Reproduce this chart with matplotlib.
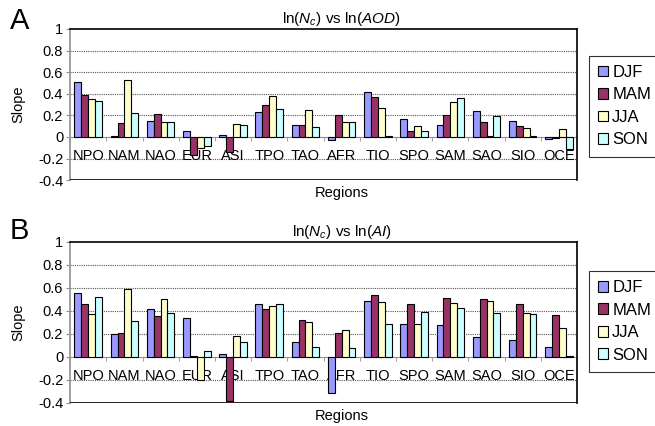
import matplotlib
matplotlib.use('Agg')
import matplotlib.pyplot as plt
import numpy as np

plt.rcParams['font.family'] = ['Liberation Sans', 'DejaVu Sans']
plt.rcParams['mathtext.fontset'] = 'custom'
plt.rcParams['mathtext.rm'] = 'Liberation Sans'
plt.rcParams['mathtext.it'] = 'Liberation Sans:italic'

regions = ['NPO', 'NAM', 'NAO', 'EUR', 'ASI', 'TPO', 'TAO', 'AFR',
           'TIO', 'SPO', 'SAM', 'SAO', 'SIO', 'OCE']
seasons = ['DJF', 'MAM', 'JJA', 'SON']
colors = ['#9999FF', '#993366', '#FFFFCC', '#CCFFFF']

# Panel A: ln(Nc) vs ln(AOD)
aod_djf = [0.51, 0.005, 0.15, 0.06, 0.02, 0.23, 0.11, -0.03, 0.42, 0.17, 0.11, 0.24, 0.15, -0.02]
aod_mam = [0.39, 0.13, 0.21, -0.17, -0.14, 0.30, 0.11, 0.20, 0.37, 0.06, 0.20, 0.14, 0.10, -0.01]
aod_jja = [0.35, 0.53, 0.14, -0.10, 0.12, 0.38, 0.25, 0.14, 0.27, 0.10, 0.32, 0.01, 0.08, 0.07]
aod_son = [0.33, 0.22, 0.14, -0.08, 0.11, 0.26, 0.09, 0.14, 0.01, 0.06, 0.36, 0.19, 0.01, -0.11]

# Panel B: ln(Nc) vs ln(AI)
ai_djf = [0.56, 0.20, 0.42, 0.34, 0.03, 0.46, 0.13, -0.31, 0.485, 0.285, 0.28, 0.17, 0.15, 0.09]
ai_mam = [0.46, 0.21, 0.36, 0.005, -0.38, 0.42, 0.32, 0.21, 0.535, 0.46, 0.515, 0.50, 0.46, 0.365]
ai_jja = [0.37, 0.59, 0.50, -0.20, 0.18, 0.44, 0.30, 0.235, 0.48, 0.285, 0.47, 0.49, 0.385, 0.25]
ai_son = [0.52, 0.31, 0.38, 0.05, 0.13, 0.46, 0.09, 0.075, 0.285, 0.39, 0.43, 0.385, 0.37, 0.005]


def draw_panel(ax, series, title, letter, letter_off):
    x = np.arange(len(regions))
    width = 0.19
    for k, (vals, c, name) in enumerate(zip(series, colors, seasons)):
        ax.bar(x + (k - 1.5) * width, vals, width, color=c, edgecolor='black',
               linewidth=0.8, label=name, zorder=3)

    ax.set_xlim(-0.5, len(regions) - 0.5)
    ax.set_ylim(-0.4, 1.0)
    ax.set_yticks(np.arange(-0.4, 1.01, 0.2))
    ax.set_yticklabels(['-0.4', '-0.2', '0', '0.2', '0.4', '0.6', '0.8', '1'], fontsize=10.5)
    for yv in [-0.2, 0.2, 0.4, 0.6, 0.8]:
        ax.axhline(yv, color='#555555', linestyle=(0, (1, 1)), linewidth=0.8, zorder=1)

    # category axis sits at zero
    ax.spines['bottom'].set_position(('data', 0))
    ax.spines['bottom'].set_color('#909090')
    ax.spines['bottom'].set_zorder(2)
    ax.axhline(-0.4, color='black', linewidth=1.2, zorder=4)
    for side in ['top', 'right']:
        ax.spines[side].set_color('black')
        ax.spines[side].set_linewidth(1.2)
    ax.spines['left'].set_color('#909090')
    ax.spines['left'].set_linewidth(1.2)

    ax.set_xticks(x)
    ax.set_xticklabels(regions, fontsize=10.5)
    ax.set_xticks(np.arange(-0.5, len(regions), 1.0), minor=True)
    ax.tick_params(axis='x', which='major', length=0, pad=9)
    ax.tick_params(axis='x', which='minor', length=3, color='#909090', direction='out')
    ax.tick_params(axis='y', length=3, color='#909090', pad=2)

    ax.set_ylabel('Slope', fontsize=10.5, labelpad=9)
    # title and axis label are centred on the whole chart area, not the plot
    ax.set_title(title, fontsize=11, pad=4, x=0.536)
    ax.annotate(letter, xy=(0, 1), xycoords='axes fraction', xytext=(-60, letter_off),
                textcoords='offset pixels', fontsize=21, ha='left', va='center')
    ax.annotate('Regions', xy=(0.536, 0), xycoords='axes fraction', xytext=(0, -13),
                textcoords='offset pixels', fontsize=10.5, ha='center', va='center')


fig = plt.figure(figsize=(6.55, 4.26), dpi=100)
ax1 = fig.add_axes([0.107, 0.577, 0.774, 0.355])
ax2 = fig.add_axes([0.107, 0.054, 0.774, 0.378])

draw_panel(ax1, [aod_djf, aod_mam, aod_jja, aod_son], r'ln($N_c$) vs ln($AOD$)', 'A', 8)
draw_panel(ax2, [ai_djf, ai_mam, ai_jja, ai_son], r'ln($N_c$) vs ln($AI$)', 'B', 11)

for ax, top in [(ax1, 0.869), (ax2, 0.364)]:
    handles, labels = ax.get_legend_handles_labels()
    leg = fig.legend(handles, labels, loc='upper left', bbox_to_anchor=(0.899, top),
                     fontsize=12, frameon=True, fancybox=False, handlelength=0.6,
                     handleheight=0.6, handletextpad=0.25, labelspacing=0.45,
                     borderpad=0.55, borderaxespad=0)
    leg.get_frame().set_edgecolor('black')
    leg.get_frame().set_linewidth(0.8)

plt.savefig('out.png', dpi=100)
